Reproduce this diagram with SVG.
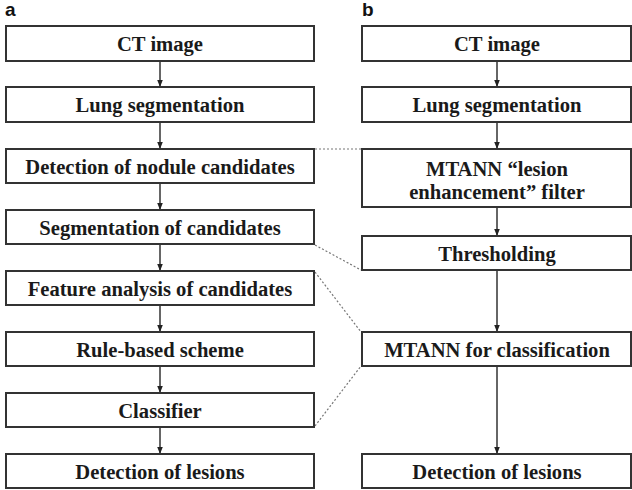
<svg xmlns="http://www.w3.org/2000/svg" width="632" height="490" viewBox="0 0 632 490">
<defs>
<style>
.box{fill:#fff;stroke:#333;stroke-width:2}
.t{font-family:'Liberation Serif',Tinos,'Times New Roman',Times,'DejaVu Serif',serif;font-weight:bold;font-size:20.6px;fill:#1a1a1a;text-anchor:middle}
.lab{font-family:'Liberation Sans',Arial,sans-serif;font-weight:bold;font-size:19px;fill:#111}
.arr{stroke:#333;stroke-width:1.5;fill:none;marker-end:url(#ah)}
.dot{stroke:#777;stroke-width:1.2;stroke-dasharray:2 2;fill:none}
</style>
<marker id="ah" viewBox="0 0 10 8" refX="10" refY="4" markerWidth="7" markerHeight="6" markerUnits="userSpaceOnUse" orient="auto">
<path d="M0,0 L10,4 L0,8 z" fill="#222"/>
</marker>
</defs>
<rect width="632" height="490" fill="#fff"/>
<text class="lab" x="5" y="16">a</text>
<text class="lab" x="362" y="16">b</text>

<g id="connectors">
<line class="arr" x1="160" y1="61" x2="160" y2="87"/>
<line class="arr" x1="160" y1="122" x2="160" y2="149"/>
<line class="arr" x1="160" y1="183" x2="160" y2="210"/>
<line class="arr" x1="160" y1="244" x2="160" y2="271"/>
<line class="arr" x1="160" y1="305" x2="160" y2="332"/>
<line class="arr" x1="160" y1="366" x2="160" y2="393"/>
<line class="arr" x1="160" y1="427" x2="160" y2="454"/>
<line class="arr" x1="497" y1="61" x2="497" y2="87"/>
<line class="arr" x1="497" y1="122" x2="497" y2="149"/>
<line class="arr" x1="497" y1="207" x2="497" y2="236"/>
<line class="arr" x1="497" y1="270" x2="497" y2="332"/>
<line class="arr" x1="497" y1="366" x2="497" y2="454"/>
<line class="dot" x1="315" y1="149" x2="361" y2="149"/>
<line class="dot" x1="315" y1="245" x2="361" y2="270"/>
<line class="dot" x1="315" y1="272" x2="361" y2="332"/>
<line class="dot" x1="315" y1="426" x2="361" y2="366"/>
</g>

<g id="a1"><rect class="box" x="6" y="26" width="308" height="35"/><text class="t" x="160" y="51">CT image</text></g>
<g id="a2"><rect class="box" x="6" y="87" width="308" height="35"/><text class="t" x="160" y="112">Lung segmentation</text></g>
<g id="a3"><rect class="box" x="6" y="149" width="308" height="34"/><text class="t" x="160" y="173.5">Detection of nodule candidates</text></g>
<g id="a4"><rect class="box" x="6" y="210" width="308" height="34"/><text class="t" x="160" y="234.5">Segmentation of candidates</text></g>
<g id="a5"><rect class="box" x="6" y="271" width="308" height="34"/><text class="t" x="160" y="295.5">Feature analysis of candidates</text></g>
<g id="a6"><rect class="box" x="6" y="332" width="308" height="34"/><text class="t" x="160" y="356.5">Rule-based scheme</text></g>
<g id="a7"><rect class="box" x="6" y="393" width="308" height="34"/><text class="t" x="160" y="417.5">Classifier</text></g>
<g id="a8"><rect class="box" x="6" y="454" width="308" height="34"/><text class="t" x="160" y="478.5">Detection of lesions</text></g>

<g id="b1"><rect class="box" x="362" y="26" width="269" height="35"/><text class="t" x="497" y="51">CT image</text></g>
<g id="b2"><rect class="box" x="362" y="87" width="269" height="35"/><text class="t" x="497" y="112">Lung segmentation</text></g>
<g id="b3"><rect class="box" x="362" y="149" width="269" height="58"/><text class="t" x="497" y="175.5">MTANN “lesion</text><text class="t" x="497" y="199">enhancement” filter</text></g>
<g id="b4"><rect class="box" x="362" y="236" width="269" height="34"/><text class="t" x="497" y="260.5">Thresholding</text></g>
<g id="b5"><rect class="box" x="362" y="332" width="269" height="34"/><text class="t" x="497" y="356.5">MTANN for classification</text></g>
<g id="b6"><rect class="box" x="362" y="454" width="269" height="34"/><text class="t" x="497" y="478.5">Detection of lesions</text></g>
</svg>
